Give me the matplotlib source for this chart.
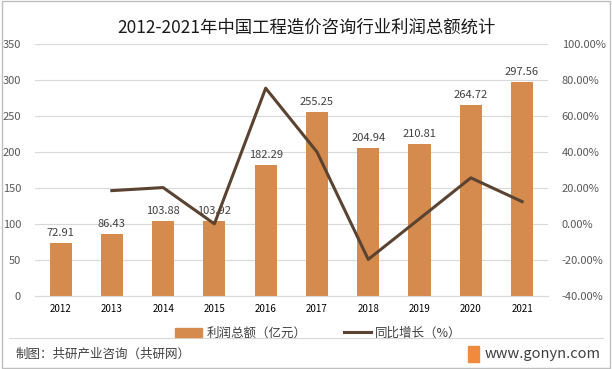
import matplotlib.pyplot as plt
import numpy as np
from matplotlib.lines import Line2D
from matplotlib.patches import Rectangle

plt.rcParams['font.family'] = ['Noto Sans CJK SC', 'DejaVu Sans']

years = ['2012', '2013', '2014', '2015', '2016', '2017', '2018', '2019', '2020', '2021']
profit = [72.91, 86.43, 103.88, 103.92, 182.29, 255.25, 204.94, 210.81, 264.72, 297.56]
growth = [None, 18.5, 20.2, 0.04, 75.4, 40.0, -19.7, 2.9, 25.6, 12.4]

bar_color = '#D58B4E'
line_color = '#5B4331'
grid_color = '#D9D9D9'
text_color = '#595959'

fig = plt.figure(figsize=(6.12, 3.69), dpi=100)
fig.patches.append(Rectangle((0.003, 0.004), 0.994, 0.992, transform=fig.transFigure,
                             fill=False, edgecolor='#BFBFBF', lw=1))

ax = fig.add_axes([0.057, 0.198, 0.838, 0.683])
x = np.arange(len(years))
ax.bar(x, profit, width=0.43, color=bar_color, zorder=2)
for xi, v in zip(x, profit):
    ax.text(xi, v + 7, f'{v:.2f}', ha='center', va='bottom', fontsize=8, color='#404040', zorder=5)

ax.set_ylim(0, 350)
ax.set_yticks(range(0, 351, 50))
ax.set_xlim(-0.5, len(years) - 0.5)
ax.set_xticks(x)
ax.set_xticklabels(years)
ax.grid(axis='y', color=grid_color, lw=0.8, zorder=0)
for s in ax.spines.values():
    s.set_visible(False)
ax.spines['bottom'].set_visible(True)
ax.spines['bottom'].set_color(grid_color)
ax.tick_params(axis='both', length=0, labelsize=8, colors=text_color)
ax.tick_params(axis='y', pad=10)
ax.tick_params(axis='x', pad=6, labelsize=7, colors='#000000')

# line drawn over the bars
ax2 = ax.twinx()
gx = [xi for xi, g in zip(x, growth) if g is not None]
gy = [g for g in growth if g is not None]
ax2.plot(gx, gy, color=line_color, lw=2.2, zorder=3)
ax2.set_ylim(-40, 100)
ax2.set_yticks(range(-40, 101, 20))
ax2.set_yticklabels([f'{t:.2f}%' for t in range(-40, 101, 20)])
for s in ax2.spines.values():
    s.set_visible(False)
ax2.tick_params(axis='y', length=0, labelsize=8, colors=text_color, pad=10)

fig.text(0.5, 0.925, '2012-2021年中国工程造价咨询行业利润总额统计', ha='center', va='center',
         fontsize=12.5, color='#1a1a1a')

handles = [Rectangle((0, 0), 1, 1, color=bar_color),
           Line2D([0], [0], color=line_color, lw=2.2)]
fig.legend(handles, ['利润总额（亿元）', '同比增长（%）'], loc='center', bbox_to_anchor=(0.52, 0.097),
           ncol=2, frameon=False, fontsize=9, handlelength=2.2, columnspacing=3, handletextpad=0.3,
           labelcolor='#404040')

fig.add_artist(Line2D([0.015, 0.985], [0.085, 0.085], transform=fig.transFigure,
                      color='#D9D9D9', lw=0.8))
fig.text(0.025, 0.04, '制图：共研产业咨询（共研网）', ha='left', va='center', fontsize=9, color='#404040')
fig.text(0.982, 0.04, 'www.gonyn.com', ha='right', va='center', fontsize=10.5, color='#404040')
fig.patches.append(Rectangle((0.765, 0.02), 0.018, 0.042, transform=fig.transFigure,
                             color='#F08A3C'))

fig.savefig('out.png', dpi=100)
